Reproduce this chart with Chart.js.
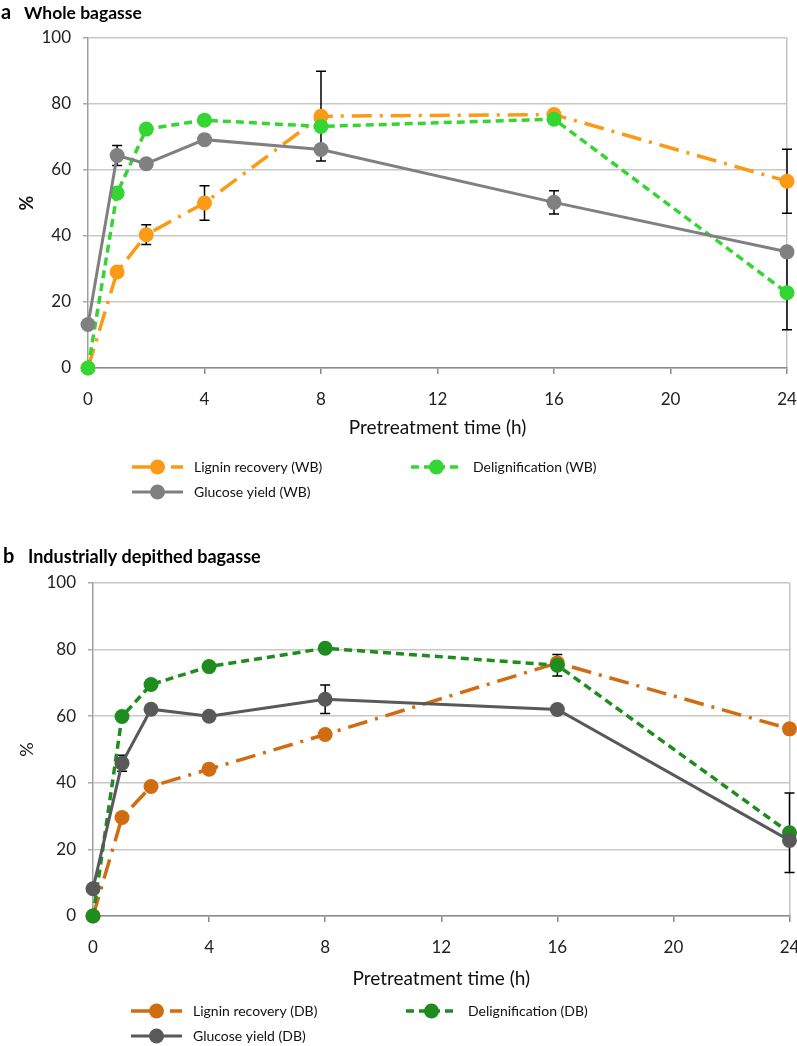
<!DOCTYPE html>
<html>
<head>
<meta charset="utf-8">
<script src="https://cdn.jsdelivr.net/npm/chart.js@4.4.0/dist/chart.umd.min.js"></script>
<style>
  body { margin: 0; background: #fff; }
  .box { position: absolute; left: 0; width: 797px; }
</style>
</head>
<body>
<div class="box" style="top:0;height:510px"><canvas id="chartA"></canvas></div>
<div class="box" style="top:510px;height:536px"><canvas id="chartB"></canvas></div>
<script>
// pretreatment times (h)
const hours = [0, 1, 2, 4, 8, 16, 24];

// a - whole bagasse
const ligninWB = [0, 29.1, 40.4, 50, 76.3, 76.8, 56.6];
const ligninWBErr = [0, 0, 3, 5.2, 13.6, 0, 9.7];
const delignWB = [0, 53, 72.4, 75.1, 73.2, 75.4, 22.8];
const delignWBErr = [0, 0, 0, 0, 0, 0, 11.2];
const glucoseWB = [13.2, 64.4, 61.9, 69.2, 66.2, 50.2, 35.2];
const glucoseWBErr = [0, 3, 0, 0, 0, 3.5, 0];

// b - industrially depithed bagasse
const ligninDB = [0, 29.6, 38.9, 44.1, 54.5, 76, 56.2];
const ligninDBErr = [0, 0, 0, 0, 0, 0, 0];
const delignDB = [0, 59.9, 69.5, 74.9, 80.4, 75.3, 25];
const delignDBErr = [0, 0, 0, 0, 0, 3.2, 11.9];
const glucoseDB = [8.2, 45.9, 62.1, 60, 65.1, 62, 22.7];
const glucoseDBErr = [0, 2.4, 0, 0, 4.3, 0, 0];

const yTicks = [0, 20, 40, 60, 80, 100];
const xTicks = [0, 4, 8, 12, 16, 20, 24];

const FONT = 'Lato, "Open Sans", sans-serif';
const toPts = arr => arr.map((v, i) => ({ x: hours[i], y: v }));

// error bars under the markers
const errorBars = {
  id: 'errorBars',
  beforeDatasetsDraw(chart) {
    const { ctx, scales: { x, y } } = chart;
    ctx.save();
    ctx.strokeStyle = '#000';
    ctx.lineWidth = 1.5;
    chart.data.datasets.forEach(ds => {
      (ds.err || []).forEach((e, i) => {
        if (!e) return;
        const px = x.getPixelForValue(hours[i]);
        const top = y.getPixelForValue(ds.data[i].y + e);
        const bot = y.getPixelForValue(ds.data[i].y - e);
        ctx.beginPath();
        ctx.moveTo(px, top); ctx.lineTo(px, bot);
        ctx.moveTo(px - 5, top); ctx.lineTo(px + 5, top);
        ctx.moveTo(px - 5, bot); ctx.lineTo(px + 5, bot);
        ctx.stroke();
      });
    });
    ctx.restore();
  }
};

// panel letter, heading and legend
const decor = {
  id: 'decor',
  afterDraw(chart, args, opts) {
    const ctx = chart.ctx;
    ctx.save();
    ctx.fillStyle = '#000';
    ctx.textBaseline = 'middle';
    ctx.font = 'bold 20px ' + FONT;
    ctx.fillText(opts.letter, opts.letterX, opts.headY);
    ctx.font = 'bold ' + opts.headSize + 'px ' + FONT;
    ctx.fillText(opts.heading, opts.headX, opts.headY);

    opts.legend.forEach((it, k) => {
      const ds = chart.data.datasets[k];
      ctx.strokeStyle = ds.borderColor;
      ctx.lineWidth = ds.borderWidth;
      ctx.setLineDash(ds.borderDash || []);
      ctx.beginPath();
      ctx.moveTo(it.x1, it.y); ctx.lineTo(it.x2, it.y);
      ctx.stroke();
      ctx.setLineDash([]);
      ctx.fillStyle = ds.pointBackgroundColor;
      ctx.beginPath();
      ctx.arc((it.x1 + it.x2) / 2, it.y, 7.5, 0, Math.PI * 2);
      ctx.fill();
      ctx.fillStyle = '#111';
      ctx.font = '14px ' + FONT;
      ctx.fillText(ds.label, it.x2 + 11, it.y);
    });
    ctx.restore();
  }
};

function line(label, data, err, color, dash, width, order) {
  return {
    label: label,
    data: toPts(data),
    err: err,
    borderColor: color,
    backgroundColor: color,
    pointBackgroundColor: color,
    pointBorderWidth: 0,
    pointRadius: 7.5,
    borderWidth: width,
    borderDash: dash,
    order: order,
    clip: false,
    tension: 0
  };
}

function makeChart(id, datasets, cfg) {
  return new Chart(document.getElementById(id), {
    type: 'line',
    data: { datasets: datasets },
    plugins: [errorBars, decor],
    options: {
      responsive: true,
      maintainAspectRatio: false,
      animation: false,
      layout: { padding: { top: cfg.top, right: cfg.right, bottom: cfg.bottom, left: 0 } },
      plugins: {
        legend: { display: false },
        tooltip: { enabled: false },
        decor: cfg.decor
      },
      scales: {
        x: {
          type: 'linear',
          min: 0, max: 24,
          afterBuildTicks: s => { s.ticks = xTicks.map(v => ({ value: v })); },
          afterFit: s => { s.height = cfg.xHeight; s.paddingLeft = 0; s.paddingRight = 0; },
          ticks: { color: '#222', font: { family: FONT, size: 17 }, padding: 15, maxRotation: 0 },
          grid: {
            color: c => (c.tick && c.tick.value === 24) ? '#c4c4c4' : 'rgba(0,0,0,0)',
            tickColor: '#888',
            tickLength: 6,
            lineWidth: 1.5
          },
          border: { color: '#8c8c8c', width: 1.5 },
          title: {
            display: true, text: 'Pretreatment time (h)', color: '#111',
            font: { family: FONT, size: 19 }, padding: 0
          }
        },
        y: {
          min: 0, max: 100,
          afterBuildTicks: s => { s.ticks = yTicks.map(v => ({ value: v })); },
          afterFit: s => { s.width = cfg.yWidth; },
          ticks: { color: '#222', font: { family: FONT, size: 17 }, padding: 12 },
          grid: { color: '#c8c8c8', tickColor: '#aaa', tickLength: 5, lineWidth: 1.5 },
          border: { color: '#a0a0a0', width: 1.5 },
          title: {
            display: true, text: '%', color: '#111',
            font: { family: FONT, size: 18, weight: cfg.pctWeight }, padding: { top: 16, bottom: 0 }
          }
        }
      }
    }
  });
}

makeChart('chartA', [
  line('Lignin recovery (WB)', ligninWB, ligninWBErr, '#FB9A14', [20, 8, 3, 8], 3.5, 2),
  line('Delignification (WB)', delignWB, delignWBErr, '#33D633', [8, 5], 3.5, 1),
  line('Glucose yield (WB)', glucoseWB, glucoseWBErr, '#808080', [], 3, 0)
], {
  top: 38, right: 10, bottom: 71, xHeight: 71, yWidth: 88, pctWeight: 'bold',
  decor: {
    letter: 'a', letterX: 1, heading: 'Whole bagasse', headSize: 17.5, headX: 24, headY: 13,
    legend: [
      { x1: 132, x2: 183, y: 467 },
      { x1: 411, x2: 462, y: 467 },
      { x1: 132, x2: 183, y: 492 }
    ]
  }
});

makeChart('chartB', [
  line('Lignin recovery (DB)', ligninDB, ligninDBErr, '#D06C12', [20, 8, 3, 8], 3.5, 2),
  line('Delignification (DB)', delignDB, delignDBErr, '#1E8C1E', [8, 5], 3.5, 1),
  line('Glucose yield (DB)', glucoseDB, glucoseDBErr, '#595959', [], 3, 0)
], {
  top: 73, right: 7, bottom: 56, xHeight: 74, yWidth: 93, pctWeight: 'normal',
  decor: {
    letter: 'b', letterX: 3, heading: 'Industrially depithed bagasse', headSize: 18, headX: 28, headY: 47,
    legend: [
      { x1: 131, x2: 182, y: 501 },
      { x1: 406, x2: 457, y: 501 },
      { x1: 131, x2: 182, y: 526 }
    ]
  }
});
</script>
</body>
</html>
